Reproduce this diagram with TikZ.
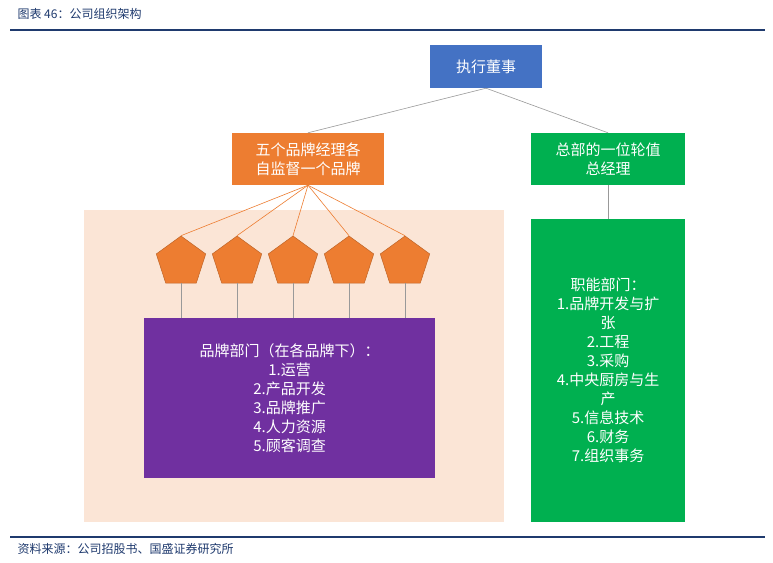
\documentclass[tikz,border=0pt]{standalone}
\usepackage{fontspec}
\setmainfont{Noto Sans CJK SC}
\usetikzlibrary{shapes.geometric}
\definecolor{tblue}{HTML}{1F3A6E}
\definecolor{bblue}{HTML}{4472C4}
\definecolor{orng}{HTML}{ED7D31}
\definecolor{grn}{HTML}{00B050}
\definecolor{peach}{HTML}{FBE5D6}
\definecolor{purp}{HTML}{7030A0}
\tikzset{box/.style={draw=none,text=white,font=\fontsize{15}{19}\selectfont,align=center,inner sep=0},
pent/.style={regular polygon,regular polygon sides=5,fill=orng,draw=orng!80!black,line width=0.5pt,minimum size=52pt,inner sep=0},
conn/.style={draw=gray!80,line width=0.6pt}}
\begin{document}
\begin{tikzpicture}[x=1pt,y=-1pt]
\useasboundingbox (0,0) rectangle (773,562);
\fill[white] (0,0) rectangle (773,562);
\node[anchor=west,text=tblue,font=\fontsize{12}{14}\selectfont\itshape] (title) at (14,14) {图表 46：公司组织架构};
\draw[tblue,line width=1.5pt] (10,30) -- (765,30);
\draw[tblue,line width=1.2pt] (10,537) -- (765,537);
\node[anchor=west,text=tblue,font=\fontsize{12}{14}\selectfont\itshape] (src) at (14,549) {资料来源：公司招股书、国盛证券研究所};
\fill[peach] (84,210) rectangle (504,522);
\node[box,fill=bblue,minimum width=112pt,minimum height=43pt] (ceo) at (486,66.5) {执行董事};
\node[box,fill=orng,minimum width=152pt,minimum height=52pt] (brand) at (308,159) {五个品牌经理各\\自监督一个品牌};
\node[box,fill=grn,minimum width=154pt,minimum height=52pt] (gm) at (608,159) {总部的一位轮值\\总经理};
\node[box,fill=purp,minimum width=291pt,minimum height=160pt] (dept) at (289.5,398) {品牌部门（在各品牌下）：\\1.运营\\2.产品开发\\3.品牌推广\\4.人力资源\\5.顾客调查};
\node[box,fill=grn,minimum width=154pt,minimum height=303pt] (func) at (608,370.5) {职能部门：\\1.品牌开发与扩\\张\\2.工程\\3.采购\\4.中央厨房与生\\产\\5.信息技术\\6.财务\\7.组织事务};
\draw[conn] (ceo.south) -- (brand.north);
\draw[conn] (ceo.south) -- (gm.north);
\draw[conn] (gm.south) -- (func.north);
\foreach \i/\x in {1/181,2/237,3/293,4/349,5/405}{
  \node[pent] (p\i) at (\x,262) {};
  \draw[orng,line width=0.6pt] (brand.south) -- (p\i.north);
  \draw[conn] (p\i.south) -- (p\i.south |- dept.north);
}
\end{tikzpicture}
\end{document}
